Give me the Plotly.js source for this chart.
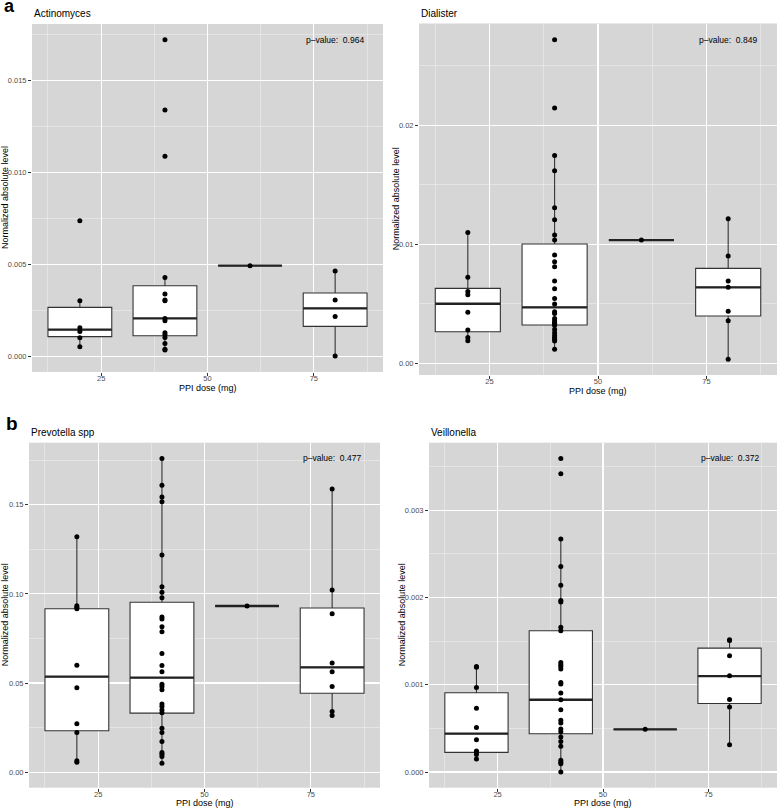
<!DOCTYPE html>
<html><head><meta charset="utf-8">
<script src="https://cdn.plot.ly/plotly-3.0.1.min.js"></script>
<style>html,body{margin:0;padding:0;background:#fff}#chart{width:778px;height:810px}</style>
</head><body><div id="chart"></div>
<script>
// ---------- DATA ----------
const doses = [20, 40, 60, 80];
const tickDoses = [25, 50, 75];
const taxa = ["Actinomyces", "Dialister", "Prevotella spp", "Veillonella"];
const pValues = ["0.964", "0.849", "0.477", "0.372"];
const yTickFormats = [".3f", ".2f", ".2f", ".3f"];
const yDticks = [0.005, 0.01, 0.05, 0.001];

// Actinomyces points per dose
const actino20 = [0.00054, 0.00103, 0.00137, 0.00157, 0.00304, 0.00739];
const actino40 = [0.00036, 0.0004, 0.00072, 0.00105, 0.0012, 0.0013, 0.00195, 0.00208, 0.00304, 0.00308, 0.00341, 0.00431, 0.01089, 0.01341, 0.01723];
const actino60 = [0.00495];
const actino80 = [0.00004, 0.00219, 0.00308, 0.00466];
// Actinomyces box statistics (per dose 20,40,60,80)
const actinoQ1  = [0.00109, 0.00114, 0.00495, 0.00165];
const actinoMed = [0.00147, 0.00208, 0.00495, 0.00263];
const actinoQ3  = [0.00268, 0.00386, 0.00495, 0.00346];
const actinoLo  = [0.00054, 0.00036, 0.00495, 0.00004];
const actinoHi  = [0.00304, 0.00431, 0.00495, 0.00466];

// Dialister
const dial20 = [0.0019, 0.00218, 0.0028, 0.00429, 0.00577, 0.00605, 0.00723, 0.01101];
const dial40 = [0.00118, 0.00188, 0.00202, 0.00218, 0.00235, 0.00258, 0.00285, 0.00318, 0.0033, 0.00335, 0.00342, 0.00359, 0.00378, 0.0042, 0.00434, 0.00499, 0.00546, 0.00627, 0.00692, 0.00812, 0.00854, 0.0091, 0.01036, 0.01078, 0.01207, 0.01308, 0.01619, 0.01748, 0.02146, 0.0272];
const dial60 = [0.01036];
const dial80 = [0.00034, 0.00359, 0.00437, 0.00639, 0.00692, 0.00902, 0.01216];
const dialQ1  = [0.00266, 0.00322, 0.01036, 0.00398];
const dialMed = [0.00501, 0.00471, 0.01036, 0.00639];
const dialQ3  = [0.0063, 0.01003, 0.01036, 0.00798];
const dialLo  = [0.0019, 0.00118, 0.01036, 0.00034];
const dialHi  = [0.01101, 0.01748, 0.01036, 0.01216];

// Prevotella spp
const prev20 = [0.0056, 0.0064, 0.0222, 0.0271, 0.0473, 0.06, 0.0916, 0.0925, 0.0934, 0.1321];
const prev40 = [0.005, 0.0088, 0.0101, 0.011, 0.0172, 0.0222, 0.0247, 0.0334, 0.0349, 0.0368, 0.0383, 0.0463, 0.048, 0.0493, 0.0564, 0.0598, 0.0665, 0.0788, 0.0816, 0.0859, 0.087, 0.0979, 0.1009, 0.104, 0.1218, 0.1517, 0.1543, 0.161, 0.176];
const prev60 = [0.0932];
const prev80 = [0.0318, 0.034, 0.048, 0.0564, 0.0613, 0.0889, 0.1022, 0.1588];
const prevQ1  = [0.0232, 0.0331, 0.0932, 0.0443];
const prevMed = [0.0536, 0.053, 0.0932, 0.0588];
const prevQ3  = [0.0917, 0.0953, 0.0932, 0.0921];
const prevLo  = [0.0056, 0.005, 0.0932, 0.0318];
const prevHi  = [0.1321, 0.176, 0.0932, 0.1588];

// Veillonella
const veil20 = [0.00015, 0.0002, 0.00023, 0.00024, 0.00037, 0.00051, 0.00073, 0.00097, 0.0012, 0.00121];
const veil40 = [0.0, 0.000095, 0.000111, 0.000134, 0.000294, 0.000351, 0.0004, 0.000462, 0.000492, 0.000561, 0.000592, 0.000714, 0.000828, 0.000905, 0.00101, 0.001027, 0.00118, 0.00121, 0.001229, 0.001256, 0.00162, 0.00166, 0.00195, 0.001966, 0.00214, 0.002355, 0.00267, 0.00342, 0.003595];
const veil60 = [0.000489];
const veil80 = [0.000313, 0.000744, 0.000832, 0.001103, 0.001332, 0.001508, 0.001515];
const veilQ1  = [0.000225, 0.000439, 0.000489, 0.000786];
const veilMed = [0.000439, 0.000828, 0.000489, 0.0011];
const veilQ3  = [0.000908, 0.00162, 0.000489, 0.00142];
const veilLo  = [0.00015, 0.0, 0.000489, 0.000313];
const veilHi  = [0.00121, 0.00267, 0.000489, 0.001515];

// ---------- LAYOUT GEOMETRY (pixels) ----------
const W = 778, H = 810;
const boxes = [
  {l: 32,  r: 383, t: 24,    b: 372,   yr: [-0.00083, 0.01808], ytx: 5},
  {l: 419, r: 777, t: 23.5,  b: 375,   yr: [-0.00098, 0.02857], ytx: 396},
  {l: 29,  r: 380, t: 442.7, b: 787.7, yr: [-0.0087, 0.1848],   ytx: 5},
  {l: 429, r: 777, t: 442.7, b: 787.7, yr: [-0.00018, 0.003775], ytx: 402}
];
const xRange = [8.75, 91.25];
const BOX_W = 15;

const panels = [
  {groups: [actino20, actino40, actino60, actino80], q1: actinoQ1, med: actinoMed, q3: actinoQ3, lo: actinoLo, hi: actinoHi},
  {groups: [dial20, dial40, dial60, dial80], q1: dialQ1, med: dialMed, q3: dialQ3, lo: dialLo, hi: dialHi},
  {groups: [prev20, prev40, prev60, prev80], q1: prevQ1, med: prevMed, q3: prevQ3, lo: prevLo, hi: prevHi},
  {groups: [veil20, veil40, veil60, veil80], q1: veilQ1, med: veilMed, q3: veilQ3, lo: veilLo, hi: veilHi}
];

const FONT = "Liberation Sans, Arial, Helvetica, sans-serif";
const traces = [];
const layout = {
  width: W, height: H,
  margin: {l: 0, r: 0, t: 0, b: 0},
  paper_bgcolor: "#ffffff",
  plot_bgcolor: "#d6d6d6",
  showlegend: false,
  font: {family: FONT, color: "#000"},
  annotations: []
};

const px2x = v => v / W;
const px2y = v => 1 - v / H;

panels.forEach((p, i) => {
  const n = i + 1;
  const xa = n === 1 ? "x" : "x" + n;
  const ya = n === 1 ? "y" : "y" + n;
  const bx = boxes[i];

  traces.push({
    type: "box", x: doses, q1: p.q1, median: p.med, q3: p.q3,
    lowerfence: p.lo, upperfence: p.hi,
    width: BOX_W, fillcolor: "#ffffff",
    line: {color: "#333333", width: 1.1},
    whiskerwidth: 0, boxpoints: false, hoverinfo: "skip",
    xaxis: xa, yaxis: ya
  });
  // thick median lines
  const mx = [], my = [];
  doses.forEach((d, k) => { mx.push(d - BOX_W / 2, d + BOX_W / 2, null); my.push(p.med[k], p.med[k], null); });
  traces.push({type: "scatter", mode: "lines", x: mx, y: my,
    line: {color: "#222222", width: 2.3}, hoverinfo: "skip", xaxis: xa, yaxis: ya});
  // points
  const px = [], py = [];
  p.groups.forEach((g, k) => g.forEach(v => { px.push(doses[k]); py.push(v); }));
  traces.push({type: "scatter", mode: "markers", x: px, y: py,
    marker: {color: "#000000", size: 5}, hoverinfo: "skip", xaxis: xa, yaxis: ya});

  const xKey = n === 1 ? "xaxis" : "xaxis" + n;
  const yKey = n === 1 ? "yaxis" : "yaxis" + n;
  layout[xKey] = {
    domain: [px2x(bx.l), px2x(bx.r)], range: xRange, anchor: ya,
    tickmode: "array", tickvals: tickDoses,
    ticks: "outside", ticklen: 3, tickwidth: 1, tickcolor: "#333333",
    ticklabelstandoff: -4,
    tickfont: {family: FONT, size: 7.5, color: "#4d4d4d"},
    showgrid: true, gridcolor: "#ffffff", gridwidth: 1.1,
    minor: {tickmode: "array", tickvals: [12.5, 37.5, 62.5, 87.5], showgrid: true, gridcolor: "#e9e9e9", gridwidth: 0.7},
    zeroline: false, showline: false, fixedrange: true
  };
  layout[yKey] = {
    domain: [px2y(bx.b), px2y(bx.t)], range: bx.yr, anchor: xa,
    tickmode: "linear", tick0: 0, dtick: yDticks[i], tickformat: yTickFormats[i],
    ticks: "outside", ticklen: 3, tickwidth: 1, tickcolor: "#333333",
    tickfont: {family: FONT, size: 7.5, color: "#4d4d4d"},
    showgrid: true, gridcolor: "#ffffff", gridwidth: 1.1,
    minor: {tick0: yDticks[i] / 2, dtick: yDticks[i], showgrid: true, gridcolor: "#e9e9e9", gridwidth: 0.7},
    zeroline: false, showline: false, fixedrange: true
  };

  // panel title
  layout.annotations.push({text: taxa[i], xref: "paper", yref: "paper",
    x: px2x(bx.l), y: px2y(bx.t - 10.5), xanchor: "left", yanchor: "middle",
    showarrow: false, font: {family: FONT, size: 10, color: "#000"}});
  // p-value
  const allVals = [].concat(...p.groups);
  layout.annotations.push({text: "p\u2013value:  " + pValues[i], xref: xa, yref: ya,
    x: 80, y: Math.max(...allVals), xanchor: "center", yanchor: "middle",
    showarrow: false, font: {family: FONT, size: 8.5, color: "#000"}});
  // x axis title
  layout.annotations.push({text: "PPI dose (mg)", xref: "paper", yref: "paper",
    x: px2x((bx.l + bx.r) / 2), y: px2y(bx.b + 15.5), xanchor: "center", yanchor: "middle",
    showarrow: false, font: {family: FONT, size: 9, color: "#000"}});
  // y axis title
  layout.annotations.push({text: "Normalized absolute level", xref: "paper", yref: "paper",
    x: px2x(bx.ytx), y: px2y((bx.t + bx.b) / 2), xanchor: "center", yanchor: "middle",
    textangle: -90, showarrow: false, font: {family: FONT, size: 9, color: "#000"}});
});

// panel letters
layout.annotations.push({text: "<b>a</b>", xref: "paper", yref: "paper", x: px2x(2), y: px2y(6.5),
  xanchor: "left", yanchor: "middle", showarrow: false, font: {family: FONT, size: 18, color: "#000"}});
layout.annotations.push({text: "<b>b</b>", xref: "paper", yref: "paper", x: px2x(4), y: px2y(423.5),
  xanchor: "left", yanchor: "middle", showarrow: false, font: {family: FONT, size: 19, color: "#000"}});

Plotly.newPlot("chart", traces, layout, {staticPlot: true, displayModeBar: false});
</script>
</body></html>
